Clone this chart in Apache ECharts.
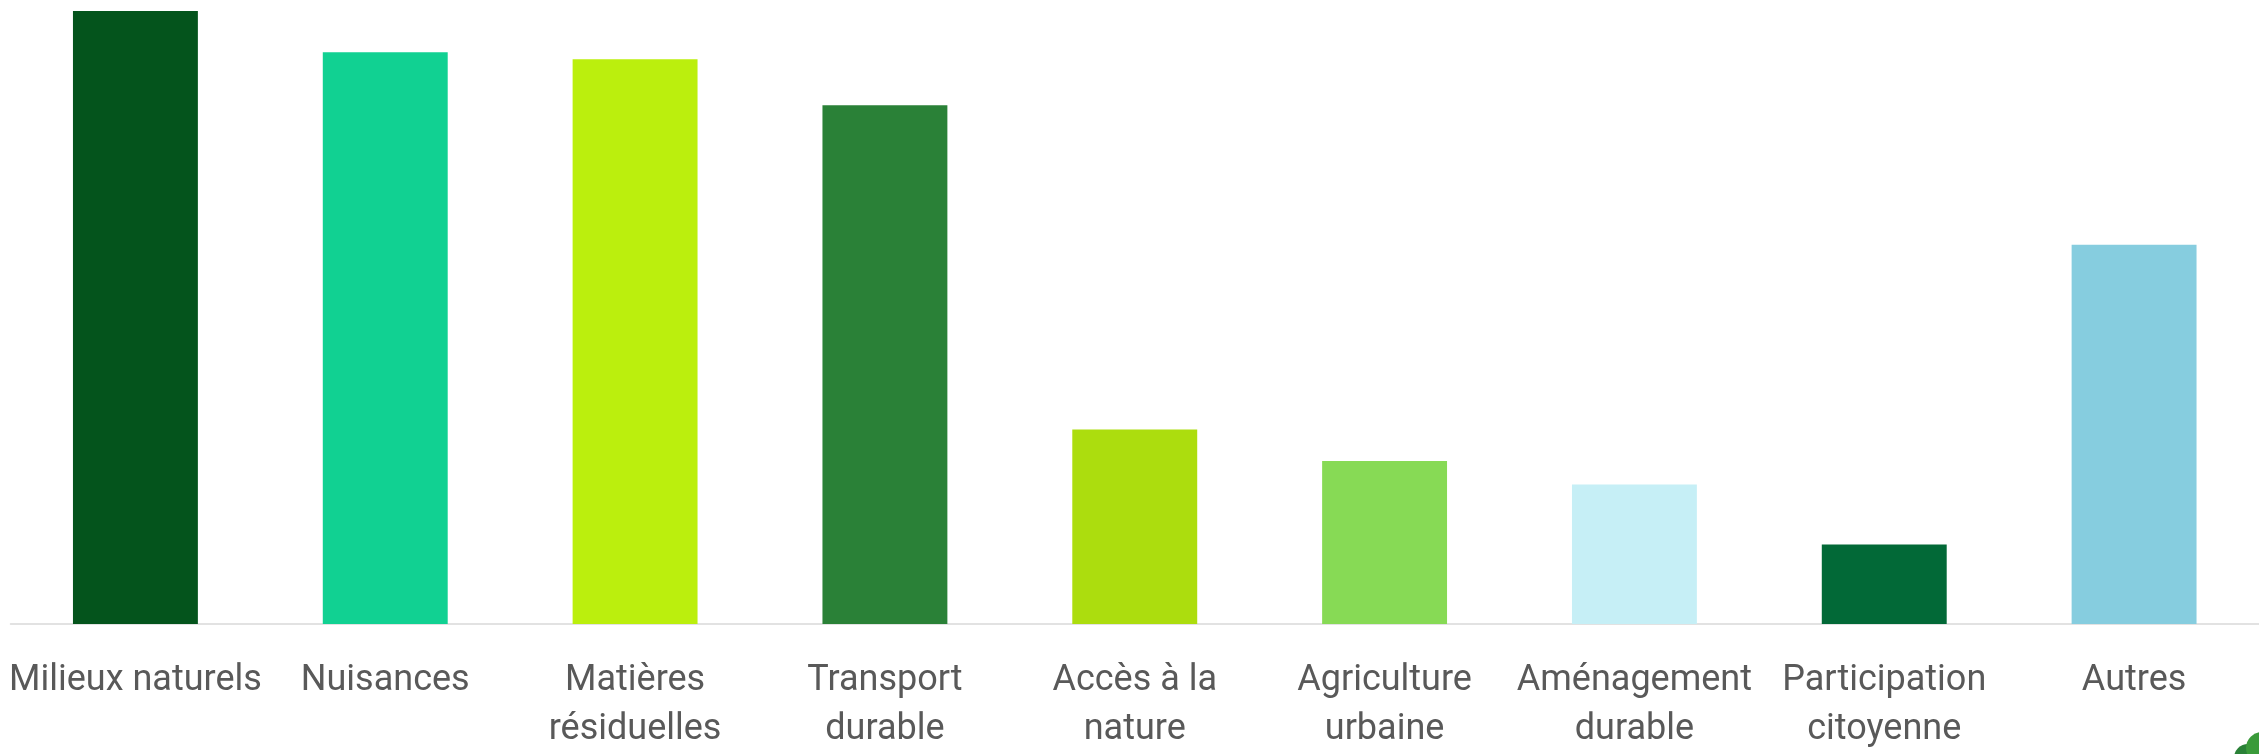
<!DOCTYPE html>
<html>
<head>
<meta charset="utf-8">
<script src="https://cdn.jsdelivr.net/npm/echarts@6/dist/echarts.min.js"></script>
<style>
html,body{margin:0;padding:0;background:#fff;}
#chart{width:2259px;height:754px;}
</style>
</head>
<body>
<div id="chart"></div>
<script>
const categories = ['Milieux naturels','Nuisances','Matières résiduelles','Transport durable','Accès à la nature','Agriculture urbaine','Aménagement durable','Participation citoyenne','Autres'];
const values = [62.4, 58.2, 57.5, 52.8, 19.8, 16.6, 14.2, 8.1, 38.6];
const barColors = ['#04541c','#11d192','#bbef0d','#2a8137','#acdd0e','#87da55','#c6eff6','#026937','#86cddf'];
const labelLines = {
  'Matières résiduelles':'Matières\nrésiduelles',
  'Transport durable':'Transport\ndurable',
  'Accès à la nature':'Accès à la\nnature',
  'Agriculture urbaine':'Agriculture\nurbaine',
  'Aménagement durable':'Aménagement\ndurable',
  'Participation citoyenne':'Participation\ncitoyenne'
};
const chart = echarts.init(document.getElementById('chart'));
chart.setOption({
  backgroundColor:'#ffffff',
  animation:false,
  grid:{left:10.5, width:2259, top:11, bottom:119, containLabel:false},
  xAxis:{
    type:'category',
    data:categories,
    axisLine:{show:true, lineStyle:{color:'#d9d9d9', width:1.5}},
    axisTick:{show:false},
    axisLabel:{
      interval:0,
      margin:32,
      color:'#595959',
      fontFamily:'Roboto, "Liberation Sans", Arial, sans-serif',
      fontSize:36,
      lineHeight:49,
      formatter:function(v){return labelLines[v]||v;}
    }
  },
  yAxis:{type:'value', min:0, max:62.4, show:false, splitLine:{show:false}},
  series:[{
    type:'bar',
    barWidth:'50%',
    data:values.map((v,i)=>({value:v, itemStyle:{color:barColors[i]}}))
  }],
  graphic:[
    {type:'circle', shape:{cx:2248, cy:758, r:14}, style:{fill:'#2a8137'}},
    {type:'circle', shape:{cx:2262, cy:748, r:16}, style:{fill:'#3a9a3a'}}
  ]
});
</script>
</body>
</html>
